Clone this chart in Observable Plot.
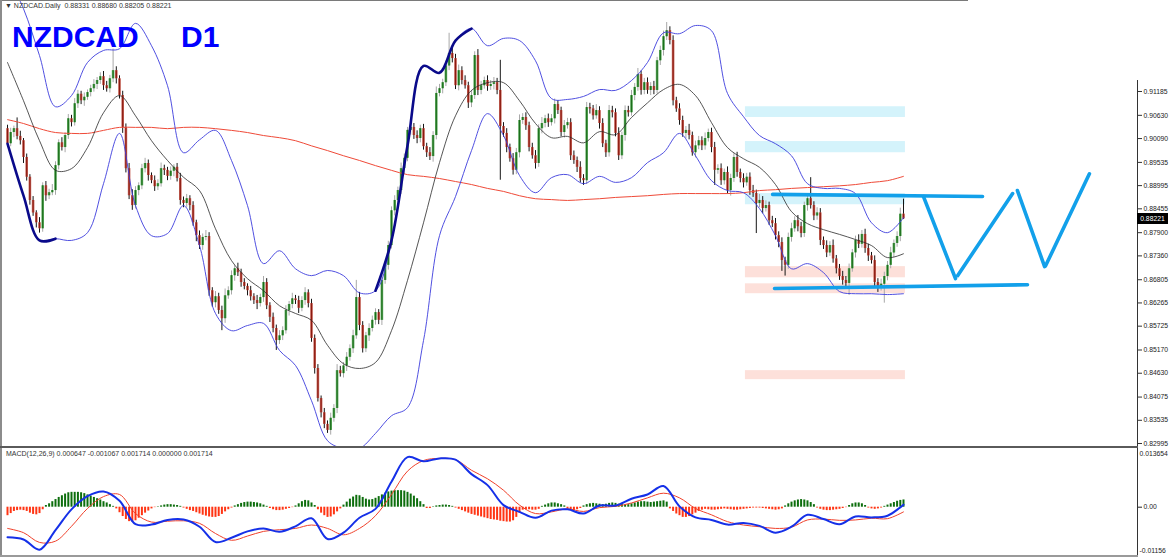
<!DOCTYPE html>
<html><head><meta charset="utf-8">
<script src="https://cdn.jsdelivr.net/npm/d3@7"></script>
<script src="https://cdn.jsdelivr.net/npm/@observablehq/plot@0.6"></script>
<style>
body{margin:0;background:#fff;font-family:"Liberation Sans",Arial,sans-serif}
#wrap{position:relative;width:1169px;height:557px;overflow:hidden;background:#fff}
.abs{position:absolute}
.small{font-size:7px;color:#333;white-space:pre;line-height:10px}
.title{font-size:30px;font-weight:bold;color:#0000ff;line-height:30px;white-space:pre}
</style></head><body><div id="wrap"></div>
<script>
// ---------- DATA ----------
const symbol="NZDCAD", timeframe="D1";
const lastBar={open:0.88331,high:0.88680,low:0.88205,close:0.88221};
const firstOpen=0.9032;
const closes=[
.8997,.9023,.9032,.9014,.9004,.8965,.8919,.8865,.8836,.8813,
.8799,.8899,.8876,.8883,.8888,.8946,.8999,.8988,.9016,.9055,
.9046,.9090,.9112,.9097,.9105,.9116,.9125,.9135,.9144,.9153,
.9132,.9125,.9148,.9167,.9148,.9109,.9035,.8939,.8876,.8853,
.8888,.8899,.8939,.8951,.8923,.8911,.8897,.8904,.8939,.8935,
.8921,.8933,.8942,.8916,.8865,.8858,.8869,.8853,.8813,.8783,
.8760,.8779,.8781,.8655,.8627,.8641,.8609,.8590,.8643,.8655,
.8690,.8706,.8697,.8674,.8665,.8655,.8641,.8632,.8625,.8639,
.8674,.8620,.8593,.8567,.8539,.8550,.8562,.8609,.8623,.8636,
.8632,.8614,.8632,.8650,.8625,.8544,.8474,.8404,.8371,.8344,
.8330,.8358,.8381,.8469,.8462,.8480,.8500,.8520,.8550,.8639,
.8574,.8520,.8550,.8567,.8586,.8604,.8586,.8679,.8714,.8760,
.8841,.8865,.8888,.8939,.8963,.9028,.9035,.9016,.9009,.9032,
.8990,.8976,.8967,.9016,.9114,.9125,.9139,.9178,.9207,.9195,
.9132,.9167,.9144,.9132,.9092,.9109,.9202,.9121,.9132,.9144,
.9130,.9135,.9139,.9121,.9037,.9021,.8988,.8962,.8935,.8976,
.9051,.9058,.9039,.8988,.8969,.8951,.9032,.9044,.9055,.9046,
.9055,.9088,.9074,.9023,.9039,.9046,.8969,.8958,.8942,.8916,
.8911,.9081,.9078,.9062,.9074,.9044,.8997,.8976,.9074,.9069,
.9021,.8969,.9016,.9074,.9069,.9109,.9128,.9158,.9121,.9139,
.9121,.9130,.9121,.9190,.9214,.9246,.9260,.9237,.9097,.9078,
.9051,.9021,.9028,.9016,.8976,.8992,.9004,.8992,.9009,.9023,
.8988,.8935,.8939,.8911,.8930,.8888,.8916,.8965,.8930,.8916,
.8906,.8919,.8888,.8881,.8858,.8865,.8846,.8853,.8818,.8811,
.8783,.8767,.8725,.8714,.8779,.8799,.8818,.8804,.8788,.8853,
.8869,.8853,.8829,.8836,.8772,.8760,.8743,.8760,.8729,.8706,
.8688,.8679,.8672,.8706,.8743,.8772,.8763,.8786,.8753,.8736,
.8725,.8674,.8663,.8670,.8688,.8714,.8743,.8765,.8781,.8833,.88221];
// wick lengths beyond the body, in pips (0.0001)
const wickUp=[
8,10,6,25,12,5,8,6,9,5,12,7,10,8,14,9,7,12,6,10,
8,12,9,7,10,6,8,11,7,9,12,10,8,50,9,7,10,8,12,14,
9,7,10,12,8,6,11,9,13,8,7,10,6,9,12,8,10,7,9,6,
11,8,14,9,7,12,8,10,16,9,11,7,13,8,9,6,10,7,12,8,
14,9,7,10,8,12,9,11,7,13,8,10,9,12,7,10,8,9,6,10,
8,12,9,14,10,8,11,9,13,40,12,9,8,11,10,9,7,12,8,10,
9,11,8,13,10,7,12,9,11,8,10,8,12,9,15,10,8,11,47,14,
10,13,9,11,8,12,9,14,10,8,11,9,12,10,70,9,11,8,12,10,
13,9,11,8,10,12,9,14,8,11,10,13,9,8,12,10,9,11,8,13,
9,12,10,8,14,9,11,8,12,10,9,13,8,11,10,12,9,14,8,10,
11,9,12,8,10,13,19,9,11,8,12,10,9,14,8,11,10,9,13,8,
10,12,9,11,8,13,10,9,12,8,11,9,10,12,8,14,9,11,8,10,
12,9,11,8,10,13,9,12,10,8,11,49,9,12,10,8,11,9,13,8,
10,12,9,11,8,10,13,9,12,10,8,11,9,12,10,9,13,8,11,14,35];
const wickDn=[
9,7,12,8,10,14,9,11,8,12,10,8,13,9,7,11,10,8,12,9,
10,8,11,9,13,7,10,8,12,9,11,8,10,9,12,8,14,10,9,11,
8,12,9,10,13,7,11,9,8,12,10,9,13,8,11,10,9,12,8,14,
9,11,8,13,10,12,9,28,11,8,10,13,9,11,8,12,10,9,14,8,
11,9,12,10,23,9,11,8,13,10,9,12,8,11,10,9,13,8,12,10,
7,11,9,12,8,10,13,9,11,8,12,10,9,13,8,11,10,12,9,11,
8,12,10,9,13,8,11,9,12,10,8,11,9,13,10,8,12,9,11,10,
9,12,10,8,13,11,9,12,10,8,11,9,13,10,125,9,12,8,11,10,
12,9,11,10,8,13,9,12,10,11,8,12,9,10,13,8,11,9,12,10,
11,9,12,10,8,13,9,11,10,12,8,11,9,13,10,8,12,9,11,10,
9,12,10,8,11,13,9,10,12,8,11,9,13,10,8,12,9,11,10,8,
12,35,9,11,10,8,13,9,11,10,12,8,11,9,70,10,12,8,11,9,
10,12,25,25,9,11,8,12,10,9,13,8,11,10,12,9,11,8,10,12,
9,11,10,28,8,12,10,9,11,13,8,10,12,9,44,10,8,11,9,12,2];
// indicator lines, read every 5th bar (bar index = 5*k)
const upperBand=[.9388,.9311,.9202,.9083,.9109,.9186,.9214,.9218,.9277,.9225,
.9132,.8976,.9006,.9028,.8958,.8853,.8718,.8748,.8706,.8690,
.8702,.8690,.8650,.8655,.8772,.8992,.9178,.9162,.9237,.9265,
.9225,.9242,.9237,.9190,.9102,.9100,.9107,.9123,.9121,.9144,
.9186,.9255,.9253,.9272,.9260,.9114,.9060,.9016,.8997,.8969,
.8904,.8893,.8893,.8881,.8813,.8790,.8825];
const midBand=[.9186,.9097,.9004,.8935,.8939,.8988,.9069,.9109,.9062,.9004,
.8958,.8919,.8888,.8799,.8725,.8683,.8655,.8620,.8602,.8586,
.8528,.8485,.8474,.8488,.8562,.8679,.8813,.8953,.9062,.9121,
.9139,.9139,.9097,.9044,.9011,.9014,.8999,.9025,.9018,.9058,
.9092,.9123,.9135,.9109,.9046,.8988,.8962,.8942,.8902,.8839,
.8811,.8797,.8786,.8774,.8760,.8732,.8741];
const lowerBand=[.8997,.8876,.8772,.8776,.8772,.8790,.8904,.9021,.8853,.8783,
.8788,.8853,.8760,.8602,.8562,.8574,.8579,.8516,.8481,.8399,
.8306,.8288,.8288,.8323,.8364,.8383,.8539,.8783,.8874,.8981,
.9067,.9016,.8923,.8883,.8918,.8925,.8904,.8921,.8907,.8918,
.8953,.8976,.9021,.8969,.8911,.8888,.8883,.8846,.8783,.8706,
.8718,.8697,.8653,.8648,.8648,.8646,.8648];
const ma200=[.9053,.9044,.9032,.9023,.9021,.9021,.9028,.9035,.9035,.9035,
.9032,.9035,.9035,.9032,.9028,.9023,.9016,.9011,.9004,.8992,
.8981,.8969,.8958,.8946,.8935,.8925,.8921,.8916,.8909,.8902,
.8893,.8886,.8876,.8869,.8867,.8865,.8867,.8869,.8872,.8874,
.8876,.8879,.8881,.8881,.8881,.8881,.8883,.8888,.8890,.8893,
.8895,.8897,.8899,.8902,.8907,.8911,.8921];
const macdLine=[-.0071,-.0076,-.0100,-.0054,-.0005,.0026,.0037,.0015,-.0040,-.0041,
-.0030,-.0029,-.0046,-.0082,-.0072,-.0057,-.0050,-.0058,-.0045,-.0026,
-.0075,-.0060,-.0025,-.0004,.0060,.0118,.0108,.0115,.0112,.0078,
.0052,.0005,-.0011,-.0025,-.0008,-.0005,-.0015,.0004,.0004,.0020,
.0030,.0050,.0002,-.0024,-.0030,-.0041,-.0037,-.0044,-.0060,-.0046,
-.0018,-.0028,-.0040,-.0022,-.0024,-.0020,.0006];
const signalLine=[-.0050,-.0060,-.0083,-.0080,-.0045,-.0003,.0025,.0030,-.0015,-.0035,
-.0033,-.0032,-.0038,-.0062,-.0078,-.0068,-.0057,-.0053,-.0050,-.0042,
-.0050,-.0065,-.0050,-.0020,.0030,.0085,.0110,.0115,.0112,.0087,
.0067,.0040,.0005,-.0015,-.0011,-.0004,-.0010,-.0001,.0002,.0010,
.0022,.0033,.0022,-.0003,-.0018,-.0034,-.0042,-.0046,-.0050,-.0047,
-.0030,-.0028,-.0031,-.0030,-.0026,-.0027,-.0011];
// MACD histogram per bar, in units of 0.00001
const histogram=[
-200,-150,-100,-80,-70,-80,-100,-140,-170,-180,-150,-60,
40,80,130,180,230,270,310,340,350,350,350,340,320,290,260,230,200,170,130,100,60,20,
-40,-130,-220,-290,-340,-350,-320,-260,-200,-140,-90,-40,
-10,10,30,50,
60,60,50,40,20,
-20,-50,-80,-100,-130,-160,-190,-210,-230,-240,-240,-220,-170,-110,-60,-20,
30,60,90,110,120,120,110,100,80,50,20,
-30,-60,-80,-80,-70,-50,-30,-10,
30,80,130,160,150,100,40,
-60,-140,-200,-240,-230,-180,-110,-40,
50,120,190,240,280,270,230,190,170,180,
210,250,290,330,360,380,390,390,
390,380,350,310,260,200,130,60,
-30,-30,
10,30,40,50,50,40,20,
-20,-50,-80,-110,-140,-170,-190,-210,-230,-250,-270,-290,-300,-310,-330,-340,-350,-350,-320,-240,-140,
-70,-60,-60,-70,-70,-50,
20,50,80,100,100,80,60,30,
-40,-70,-80,-60,-30,
30,60,80,90,80,70,60,70,90,100,90,70,
60,50,60,80,100,120,130,130,120,110,120,130,140,150,120,
-40,-100,-160,-200,-240,-240,-220,-180,-140,-100,-70,
-50,-60,-70,-70,-60,-50,-40,-50,-60,-70,-70,-60,-50,-40,-30,-20,-20,-20,-30,-40,-50,-60,-70,-60,-40,
30,80,120,150,170,180,170,150,110,60,
-20,-50,-70,-80,-80,-70,-60,-50,-30,-10,
40,80,100,100,80,40,
-20,-40,-50,-40,-20,
20,50,80,110,140,160,171];
const macdValuesText="MACD(12,26,9) 0.000647 -0.001067 0.001714 0.000000 0.001714";
const priceTicks=[0.91185,0.90630,0.90090,0.89535,0.88995,0.88455,0.87900,0.87360,0.86805,0.86265,0.85725,0.85170,0.84630,0.84075,0.83535,0.82995];
const macdTicks=[0.013654,0,-0.01156];
const macdTickLabels=["0.013654","0.00","-0.01156"];
const axisTop=0.9144;
// drawing objects (bar index, price)
const zoneStart=230.6, zoneEnd=280.6;
const resistanceZones=[[0.9083,0.9058],[0.9002,0.8976],[0.8881,0.8855]];
const supportZones=[[0.8711,0.8685],[0.8671,0.8648],[0.8469,0.8448]];
const drawnLines=[
 [239.1,0.8879,304.7,0.8874],
 [239.7,0.8660,318.75,0.8669],
 [286.25,0.8874,296.25,0.8683],
 [296.9,0.8690,314.1,0.8881],
 [315.6,0.8888,324.1,0.8711],
 [324.4,0.8713,338.1,0.8927]];

// ---------- CHART ----------
const N=closes.length;
const bars=closes.map((c,i)=>{
  const o=i===0?firstOpen:closes[i-1];
  return {i,o,c,h:Math.max(o,c)+wickUp[i]/1e4,l:Math.min(o,c)-wickDn[i]/1e4,up:c>=o};
});
Object.assign(bars[N-1],{o:lastBar.open,h:lastBar.high,l:lastBar.low,c:lastBar.close,up:lastBar.close>=lastBar.open});
const sample=arr=>arr.map((v,k)=>({i:k*5,v}));
const xDomain=[-2.1875,353.125];
const yDomain=[0.82925,0.93302];
const font='"Liberation Sans",Arial,sans-serif';
const fmt5=d3.format(".5f");

const main=Plot.plot({
  width:1169,height:446,marginTop:0,marginBottom:0,marginLeft:0,marginRight:32,
  x:{domain:xDomain,axis:null,label:null},
  y:{domain:yDomain,axis:null,label:null},
  style:{fontFamily:font,fontSize:"6.8px",color:"#222",background:"transparent"},
  marks:[
    Plot.rect(resistanceZones,{x1:zoneStart,x2:zoneEnd,y1:d=>d[0],y2:d=>d[1],fill:"#d4f3fb"}),
    Plot.rect(supportZones,{x1:zoneStart,x2:zoneEnd,y1:d=>d[0],y2:d=>d[1],fill:"#fde0da"}),
    Plot.ruleX(bars,{x:"i",y1:"l",y2:"h",stroke:d=>d.up?"#a8a8a8":"#151515",strokeWidth:1}),
    Plot.ruleX(bars,{x:"i",y1:"o",y2:"c",stroke:d=>d.up?"#62ad62":"#c8675c",strokeWidth:2.6}),
    Plot.ruleX(bars,{x:"i",y1:"o",y2:"c",stroke:d=>d.up?"#1c6e1c":"#8a1a10",strokeWidth:1.2}),
    Plot.line(sample(ma200),{x:"i",y:"v",stroke:"#ef4a38",strokeWidth:1,curve:"catmull-rom",clip:true}),
    Plot.line(sample(midBand),{x:"i",y:"v",stroke:"#2a2a2a",strokeWidth:0.8,curve:"catmull-rom",clip:true}),
    Plot.line(sample(upperBand),{x:"i",y:"v",stroke:"#3c3cdc",strokeWidth:0.9,curve:"catmull-rom",clip:true}),
    Plot.line(sample(lowerBand),{x:"i",y:"v",stroke:"#3c3cdc",strokeWidth:0.9,curve:"catmull-rom",clip:true}),
    Plot.line(sample(lowerBand).slice(0,4),{x:"i",y:"v",stroke:"#0a0a8a",strokeWidth:2.6,curve:"catmull-rom"}),
    Plot.line(sample(upperBand).slice(23,30),{x:"i",y:"v",stroke:"#0a0a8a",strokeWidth:2.6,curve:"catmull-rom"}),
    Plot.link(drawnLines,{x1:d=>d[0],y1:d=>d[1],x2:d=>d[2],y2:d=>d[3],stroke:"#12a0ea",strokeWidth:3.6,strokeLinecap:"round"}),
    Plot.ruleX([xDomain[1]],{y1:axisTop,y2:yDomain[0],stroke:"#333",strokeWidth:1}),
    Plot.axisY(priceTicks,{anchor:"right",tickSize:4,tickPadding:2,tickFormat:fmt5,stroke:"#333",label:null})
  ]
});

const macd=Plot.plot({
  width:1169,height:108,marginTop:0,marginBottom:0,marginLeft:0,marginRight:32,
  x:{domain:xDomain,axis:null,label:null},
  y:{domain:[-0.011616,0.013832],axis:null,label:null},
  style:{fontFamily:font,fontSize:"6.8px",color:"#222",background:"transparent"},
  marks:[
    Plot.ruleX(histogram.map((v,i)=>({i,v:v/1e5})),{x:"i",y1:0,y2:"v",stroke:d=>d.v>=0?"#0d6e0d":"#ff3514",strokeWidth:2}),
    Plot.line(sample(signalLine),{x:"i",y:"v",stroke:"#f0402a",strokeWidth:1,curve:"catmull-rom"}),
    Plot.line(sample(macdLine),{x:"i",y:"v",stroke:"#1530e8",strokeWidth:2,curve:"catmull-rom"}),
    Plot.ruleX([xDomain[1]],{stroke:"#333",strokeWidth:1}),
    Plot.axisY([macdTicks[1]],{anchor:"right",tickSize:4,tickPadding:2,tickFormat:()=>macdTickLabels[1],label:null}),
    Plot.text([0],{x:xDomain[1],y:()=>macdTicks[0],text:()=>macdTickLabels[0],dx:2,dy:5,textAnchor:"start"}),
    Plot.text([0],{x:xDomain[1],y:()=>macdTicks[2],text:()=>macdTickLabels[2],dx:2,dy:-5,textAnchor:"start"})
  ]
});

const wrap=document.getElementById("wrap");
function box(css){const d=document.createElement("div");d.className="abs";d.style.cssText=css;wrap.appendChild(d);return d;}
box("left:0;top:0").appendChild(main);
box("left:0;top:448px").appendChild(macd);
// frame
box("left:0;top:0;width:968px;height:1px;background:#7a7a7a");
box("left:0;top:0;width:2px;height:557px;background:#8c8c8c");
box("left:0;top:446px;width:1138px;height:2px;background:#5a5a5a");
box("left:0;top:555px;width:1138px;height:2px;background:#9a9a9a");
// texts
const hdr=box("left:5px;top:1px");hdr.className="abs small";
hdr.textContent="\u25BC "+symbol+".Daily  "+[lastBar.open,lastBar.high,lastBar.low,lastBar.close].map(fmt5).join(" ");
const t1=box("left:12px;top:22px");t1.className="abs title";t1.textContent=symbol;
const t2=box("left:181px;top:22px");t2.className="abs title";t2.textContent=timeframe;
const ml=box("left:6px;top:449px");ml.className="abs small";ml.textContent=macdValuesText;
// current price tag
const py=main.scale("y").apply(lastBar.close);
const tag=box(`left:1137px;top:${py-5.5}px;width:31px;height:11px;background:#000;color:#fff;font-size:6.8px;line-height:11px;text-align:center`);
tag.textContent=fmt5(lastBar.close);
</script></body></html>
